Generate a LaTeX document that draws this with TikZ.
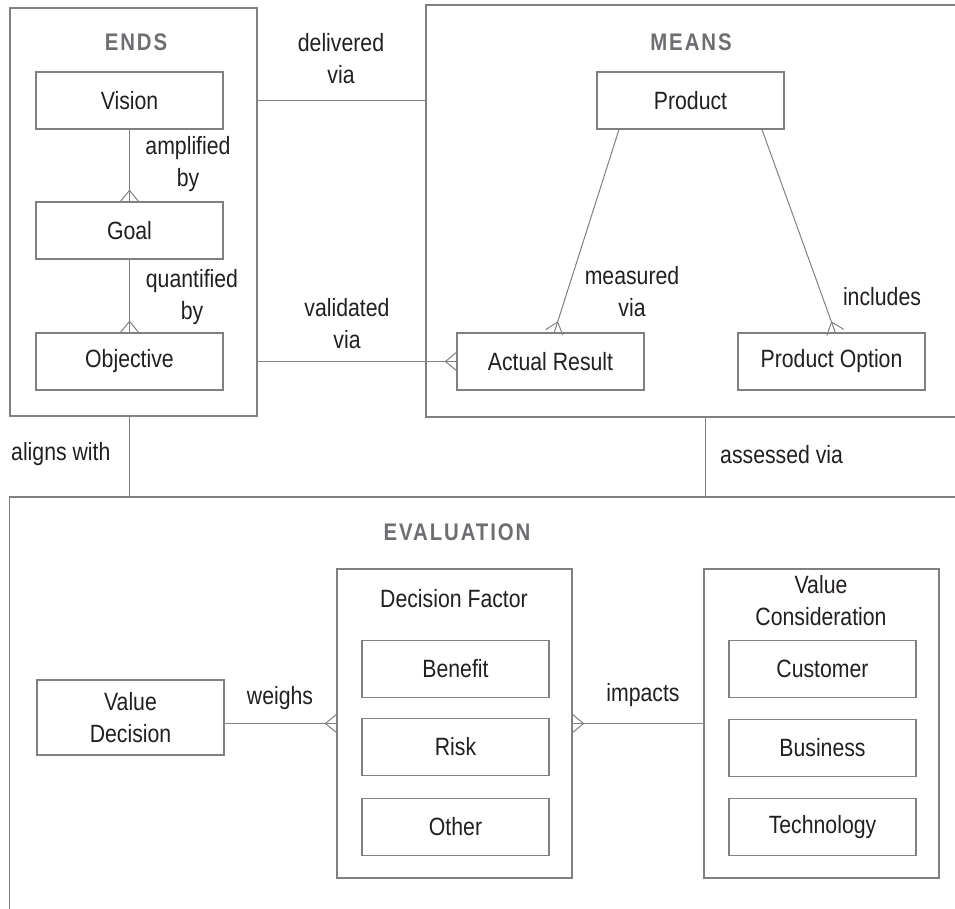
\documentclass[tikz,border=0pt]{standalone}
\usepackage{fontspec}
\setmainfont{Liberation Sans}[FakeStretch=0.85]
\newfontfamily\titlefont{Liberation Sans}[FakeStretch=0.85, LetterSpace=8]
\usetikzlibrary{calc}
\definecolor{ink}{HTML}{231F20}
\definecolor{rule}{HTML}{808080}
\definecolor{head}{HTML}{6D6E71}

% line from #1 to #2 ending in a crow's foot at #2
\newcommand{\crowto}[2]{%
  \draw[link] (#1) -- (#2);
  \draw[link] ($(#2)!9pt!90:(#1)$) -- ($(#2)!11pt!(#1)$) -- ($(#2)!9pt!-90:(#1)$);
}

\begin{document}
\begin{tikzpicture}[x=1pt,y=-1pt,
  box/.style={draw=rule, line width=1.2pt, minimum width=187pt, minimum height=57pt,
    inner sep=0pt, font=\fontsize{25}{32}\selectfont, text=ink, align=center},
  frame/.style={draw=rule, line width=1.2pt, inner sep=0pt},
  lbl/.style={font=\fontsize{25}{32}\selectfont, text=ink, align=center, inner sep=0pt},
  heading/.style={font=\titlefont\bfseries\fontsize{24}{28}\selectfont, text=head, inner sep=0pt},
  link/.style={draw=rule, line width=1pt}]

\clip (0,0) rectangle (955,909);

% group frames
\node[frame, minimum width=247pt, minimum height=408pt] (ends) at (133.5,212) {};
\node[frame, minimum width=549pt, minimum height=412pt] (means) at (700.5,211) {};
\node[frame, minimum width=965.5pt, minimum height=433pt] (eval) at (492.25,713.5) {};
\node[frame, minimum width=235pt, minimum height=309pt] (df) at (454.5,723.5) {};
\node[frame, minimum width=235pt, minimum height=309pt] (vc) at (821.5,723.5) {};

% headings
\node[heading] (endsT) at (136,42) {ENDS};
\node[heading] (meansT) at (691,42) {MEANS};
\node[heading] (evalT) at (457,532) {EVALUATION};
\node[lbl] (dfT) at (454,599) {Decision Factor};
\node[lbl] (vcT) at (821,601) {Value\\Consideration};

% ends
\node[box] (vision) at (129.5,100.5) {Vision};
\node[box] (goal) at (129.5,230.5) {Goal};
\node[box] (objective) at (129.5,361.5) {Objective};

% means
\node[box] (product) at (690.5,100.5) {Product};
\node[box] (ar) at (550.5,361.5) {Actual Result};
\node[box] (po) at (831.5,361.5) {Product Option};

% evaluation
\node[box, minimum height=75pt] (vd) at (130.5,717.5) {Value\\Decision};
\node[box] (benefit) at (455.5,669) {Benefit};
\node[box] (risk) at (455.5,747) {Risk};
\node[box] (other) at (455.5,827) {Other};
\node[box] (customer) at (822.5,669) {Customer};
\node[box] (business) at (822.5,748) {Business};
\node[box] (technology) at (822.5,827) {Technology};

% connectors
\crowto{vision.south}{goal.north}
\crowto{goal.south}{objective.north}
\draw[link] (vision -| ends.east) -- (vision -| means.west);
\crowto{ar.west -| ends.east}{ar.west}
\coordinate (pa) at ($(product.south west)!0.12!(product.south east)$);
\coordinate (pb) at ($(product.south west)!0.88!(product.south east)$);
\coordinate (aa) at ($(ar.north west)!0.52!(ar.north east)$);
\coordinate (ob) at ($(po.north west)!0.52!(po.north east)$);
\crowto{pa}{aa}
\crowto{pb}{ob}
\draw[link] (ends.south -| objective) -- (eval.north -| objective);
\draw[link] ($(means.south)+(4.5,0)$) -- ($(means.south |- eval.north)+(4.5,0)$);
\crowto{vd.east |- df.west}{df.west}
\crowto{vc.west}{df.east}

% connector labels
\node[lbl] (l1) at (341,59) {delivered\\via};
\node[lbl] (l2) at (188,164) {amplified\\by};
\node[lbl] (l3) at (192,297) {quantified\\by};
\node[lbl] (l4) at (347,323.5) {validated\\via};
\node[lbl] (l5) at (632,291.5) {measured\\via};
\node[lbl] (l6) at (882,297) {includes};
\node[lbl, anchor=west] (l7) at (11,454) {aligns with};
\node[lbl, anchor=west] (l8) at (720,455) {assessed via};
\node[lbl] (l9) at (280,698) {weighs};
\node[lbl] (l10) at (643,695) {impacts};
\end{tikzpicture}
\end{document}
